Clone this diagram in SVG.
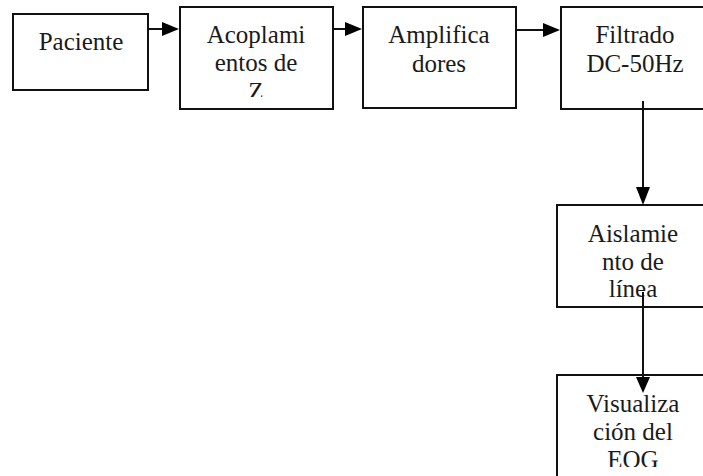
<svg xmlns="http://www.w3.org/2000/svg" width="703" height="476" viewBox="0 0 703 476">
  <style>
    .box { fill: #ffffff; stroke: #111111; stroke-width: 2; }
    .lbl { font-family: "Liberation Serif", "Times New Roman", serif; font-size: 25px; fill: #1a1a1a; text-anchor: middle; }
    .wire { stroke: #111111; stroke-width: 2; fill: none; }
    .head { fill: #000000; stroke: none; }
  </style>
  <defs>
    <clipPath id="clipZ"><rect x="180" y="0" width="153" height="97"/></clipPath>
    <clipPath id="clipEOG"><rect x="557" y="375" width="160" height="92"/></clipPath>
  </defs>
  <rect width="703" height="476" fill="#ffffff"/>

  <g id="paciente">
    <rect class="box" x="13" y="14" width="135" height="76"/>
    <text class="lbl" x="81" y="50">Paciente</text>
  </g>

  <g id="acoplamientos">
    <rect class="box" x="180" y="7" width="153" height="102"/>
    <text class="lbl" x="256" y="43">Acoplami</text>
    <text class="lbl" x="256" y="71">entos de</text>
    <text class="lbl" x="256" y="100" clip-path="url(#clipZ)">Z</text>
  </g>

  <g id="amplificadores">
    <rect class="box" x="363" y="7" width="153" height="101"/>
    <text class="lbl" x="439" y="43">Amplifica</text>
    <text class="lbl" x="439" y="72">dores</text>
  </g>

  <g id="filtrado">
    <rect class="box" x="561" y="7" width="152" height="102"/>
    <text class="lbl" x="635" y="43">Filtrado</text>
    <text class="lbl" x="635" y="72">DC-50Hz</text>
  </g>

  <g id="aislamiento">
    <rect class="box" x="557" y="205" width="155" height="102"/>
    <text class="lbl" x="633" y="242">Aislamie</text>
    <text class="lbl" x="633" y="270">nto de</text>
    <text class="lbl" x="633" y="297">línea</text>
  </g>

  <g id="visualizacion">
    <rect class="box" x="557" y="375" width="155" height="120"/>
    <text class="lbl" x="633" y="412">Visualiza</text>
    <text class="lbl" x="633" y="440">ción del</text>
    <text class="lbl" x="633" y="468" clip-path="url(#clipEOG)">EOG</text>
  </g>

  <g id="connectors">
    <line class="wire" x1="148" y1="29" x2="163" y2="29"/>
    <polygon class="head" points="162,22 179,29 162,36"/>
    <line class="wire" x1="333" y1="29" x2="346" y2="29"/>
    <polygon class="head" points="345,22 362,29 345,36"/>
    <line class="wire" x1="516" y1="30" x2="544" y2="30"/>
    <polygon class="head" points="543,23 560,30 543,37"/>
    <line class="wire" x1="643" y1="101" x2="643" y2="188"/>
    <polygon class="head" points="636,187 643,205 650,187"/>
    <line class="wire" x1="643" y1="292" x2="643" y2="378"/>
    <polygon class="head" points="636,377 643,393 650,377"/>
  </g>
</svg>
